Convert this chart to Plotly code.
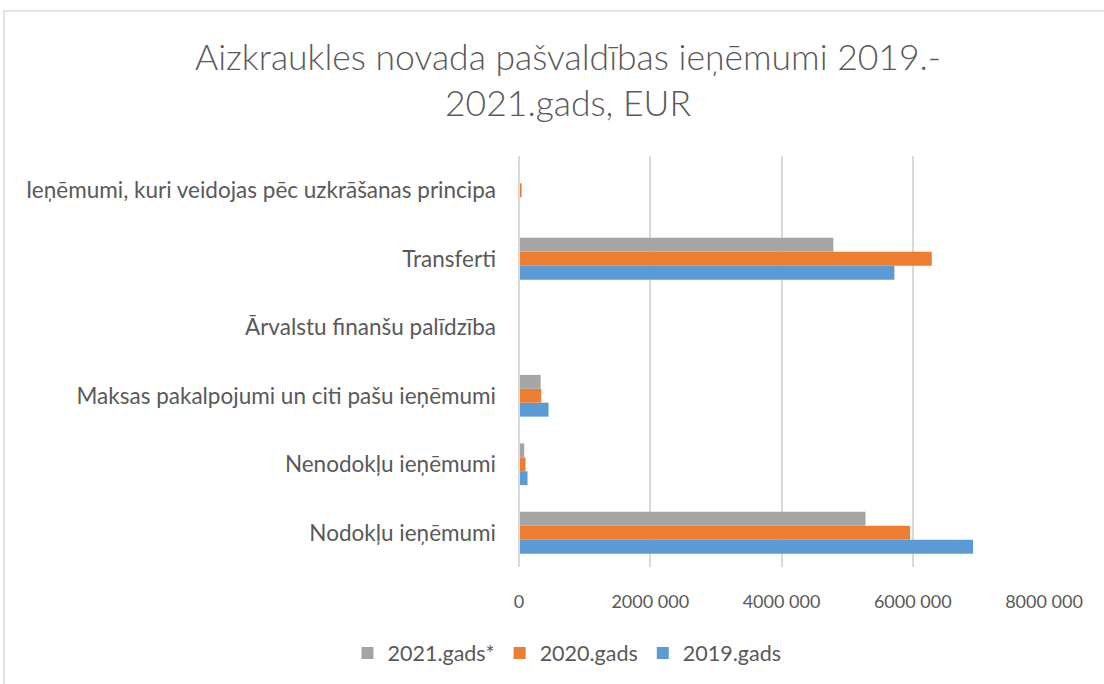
import plotly.graph_objects as go

categories = [
    "Nodokļu ieņēmumi",
    "Nenodokļu ieņēmumi",
    "Maksas pakalpojumi un citi pašu ieņēmumi",
    "Ārvalstu finanšu palīdzība",
    "Transferti",
    "Ieņēmumi, kuri veidojas pēc uzkrāšanas principa",
]
series_names = ["2019.gads", "2020.gads", "2021.gads*"]
values_2019 = [6920000, 130000, 450000, 5000, 5720000, 0]
values_2020 = [5960000, 100000, 340000, 0, 6290000, 40000]
values_2021 = [5280000, 80000, 330000, 0, 4790000, 0]
colors = ["#5B9BD5", "#ED7D31", "#A5A5A5"]
tick_vals = [0, 2000000, 4000000, 6000000, 8000000]
tick_text = ["0", "2000 000", "4000 000", "6000 000", "8000 000"]

FONT = "Lato"
TXT = "#595959"

fig = go.Figure()
for name, vals, col in zip(series_names, [values_2019, values_2020, values_2021], colors):
    fig.add_trace(go.Bar(y=categories, x=vals, name=name, orientation="h",
                         marker=dict(color=col, line=dict(width=0))))

L, R, T, B = 519, 60, 156, 117
W, H = 1104, 684
pw, ph = W - L - R, H - T - B

def px_x(x):
    return (x - L) / pw

def px_y(y):
    return (H - B - y) / ph

fig.update_layout(
    width=W, height=H,
    margin=dict(l=L, r=R, t=T, b=B, autoexpand=False),
    paper_bgcolor="white", plot_bgcolor="white",
    barmode="group", bargap=0.39, bargroupgap=0,
    font=dict(family=FONT, color=TXT, size=18),
    title=dict(text="Aizkraukles novada pašvaldības ieņēmumi 2019.-<br>2021.gads, EUR",
               x=568 / W, xref="container", xanchor="center",
               y=1 - 70 / H, yref="container", yanchor="middle",
               font=dict(family=FONT, size=35.5, color=TXT, weight=300)),
    xaxis=dict(range=[0, 8000000], tickvals=tick_vals, ticktext=tick_text,
               showgrid=True, gridcolor="#D9D9D9", gridwidth=1.5,
               zeroline=False, showline=False, ticks="", ticklabelstandoff=22,
               tickfont=dict(size=18, color=TXT), fixedrange=True, automargin=False),
    yaxis=dict(showgrid=False, zeroline=False, showline=False, ticks="",
               ticklabelstandoff=22, tickfont=dict(size=22.5, color=TXT), automargin=False),
    legend=dict(orientation="h", traceorder="reversed",
                x=px_x(567), xanchor="center", y=px_y(653), yanchor="middle",
                font=dict(size=21.5, color=TXT), itemwidth=30),
    showlegend=True,
    shapes=[
        dict(type="line", xref="paper", yref="paper", x0=0, x1=0, y0=0, y1=1,
             line=dict(color="#D9D9D9", width=2)),
        dict(type="rect", xref="paper", yref="paper",
             x0=px_x(4), x1=px_x(1115), y0=px_y(11), y1=px_y(700),
             line=dict(color="#D9D9D9", width=1.5), fillcolor="rgba(0,0,0,0)",
             layer="below"),
    ],
)

fig.write_html("out.html", config={"displayModeBar": False},
               post_script="document.body.style.margin='0';window.dispatchEvent(new Event('resize'));")
